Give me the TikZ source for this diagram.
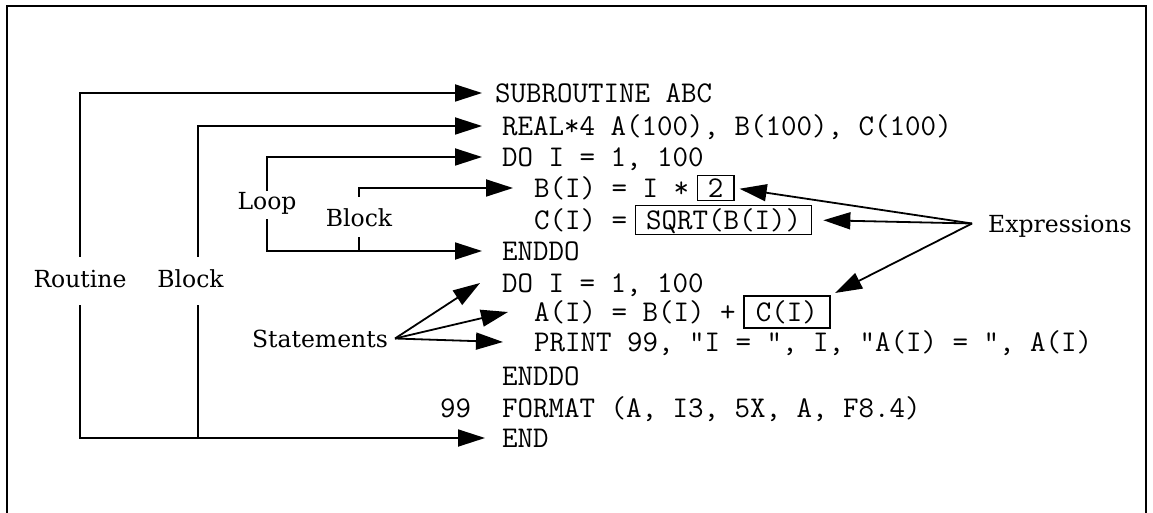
\documentclass[tikz,border=0pt]{standalone}
\usepackage{fontspec}
\newfontfamily\labfont{DejaVu Serif}
\usetikzlibrary{arrows.meta}
\begin{document}
\begin{tikzpicture}[x=1pt,y=-1pt,
  ln/.style={line width=1.8pt},
  arr/.style={ln,-{Triangle[length=27pt,width=17pt]}},
  code/.style={font=\ttfamily\fontsize{30.1}{34}\selectfont, inner sep=0pt, text height=18.4pt, text depth=0pt, anchor=west},
  cbox/.style={code, anchor=center, draw, line width=1.5pt, inner xsep=10.5pt},
  lab/.style={font=\labfont\fontsize{23.5}{27}\selectfont, inner sep=0pt, text height=17pt, text depth=0pt, anchor=base}]
\useasboundingbox (0,0) rectangle (1153,513);
% frame (bottom edge lies outside the picture)
\draw[line width=2.2pt] (7,513) -- (7,6) -- (1146,6) -- (1146,513);
% code lines
\node[code] (sub) at (495,93) {SUBROUTINE ABC};
\node[code] (real) at (502,126) {REAL*4 A(100), B(100), C(100)};
\node[code] (do1) at (502,157) {DO I = 1, 100};
\node[code] (bi) at (534,188) {B(I) = I *};
\node[cbox, minimum height=25pt] (two) at (715.7,188) {2};
\node[code] (ci) at (534,220) {C(I) =};
\node[cbox, minimum height=29pt] (sqrt) at (723.6,220) {SQRT(B(I))};
\node[code] (enddo1) at (502,251) {ENDDO};
\node[code] (do2) at (502,283) {DO I = 1, 100};
\node[code] (ai) at (534,312) {A(I) = B(I) +};
\node[cbox, minimum height=32pt, inner xsep=12pt] (cc) at (786.8,312) {C(I)};
\node[code] (pr) at (534,342) {PRINT 99, "I = ", I, "A(I) = ", A(I)};
\node[code] (enddo2) at (502,376) {ENDDO};
\node[code] (fmt) at (440,408) {99\ \ FORMAT (A, I3, 5X, A, F8.4)};
\node[code] (end) at (502,438) {END};
% labels
\node[lab] (routine) at (80,287) {Routine};
\node[lab] (blk) at (190.5,287) {Block};
\node[lab] (loop) at (267,209) {Loop};
\node[lab] (iblk) at (359,226) {Block};
\node[lab, anchor=base west] (expr) at (988,232) {Expressions};
\node[lab, anchor=base east] (stm) at (388,347) {Statements};
\coordinate (bt) at ([xshift=7.5pt]blk.north);
\coordinate (bb) at ([xshift=7.5pt]blk.south);
\coordinate (ec) at ([xshift=-16pt]expr.west);
\coordinate (sc) at ([xshift=7pt]stm.east);
% routine bracket
\draw[arr, shorten <=13pt, shorten >=13pt] (routine.north) |- (sub.west);
\draw[arr, shorten <=18pt, shorten >=17pt] (routine.south) |- (end.west);
% block bracket
\draw[arr, shorten <=13pt, shorten >=20pt] (bt) |- (real.west);
\draw[ln, shorten <=18pt] (bb) -- (bb |- end.west);
% loop bracket
\draw[arr, shorten <=1pt, shorten >=20pt] (loop.north) |- (do1.west);
\draw[arr, shorten <=10pt, shorten >=20pt] (loop.south) |- (enddo1.west);
% inner block bracket
\draw[arr, shorten <=12pt, shorten >=21pt] (iblk.north) |- (bi.west);
\draw[ln, shorten <=11pt] (iblk.south) -- (iblk.south |- enddo1.west);
% expressions
\draw[arr, shorten >=5pt] (ec) -- (two.east);
\draw[arr, shorten >=11pt] (ec) -- (sqrt.east);
\draw[arr, shorten >=5pt] (ec) -- (cc.north east);
% statements
\draw[arr] (sc) -- ([xshift=-22pt]do2.west);
\draw[arr] (sc) -- ([xshift=-26pt]ai.west);
\draw[arr] (sc) -- ([xshift=-31pt]pr.west);
\end{tikzpicture}
\end{document}
